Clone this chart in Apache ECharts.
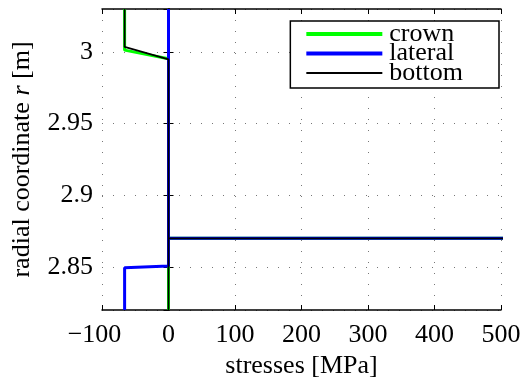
<!DOCTYPE html>
<html>
<head>
<meta charset="utf-8">
<script src="https://cdn.jsdelivr.net/npm/echarts@6/dist/echarts.min.js"></script>
<style>
  html, body { margin: 0; padding: 0; background: #fff; }
  #chart { width: 525px; height: 380px; }
</style>
</head>
<body>
<div id="chart"></div>
<script>
// Radial stress profiles through the lining (r in m, stress in MPa)
const seriesNames = ['crown', 'lateral', 'bottom'];

const crownR   = [3.03, 3.0013, 2.9953, 2.87, 2.87, 2.87, 2.82];
const crownS   = [-66, -66, 0, 0, 1200, 0, 0];

const lateralR = [3.03, 2.87, 2.87, 2.87, 2.8507, 2.8494, 2.82];
const lateralS = [0, 0, 1200, 0, 0, -66, -66];

const bottomR  = [3.03, 3.0035, 2.9948, 2.87, 2.87, 2.87, 2.82];
const bottomS  = [-66, -66, 0, 0, 1200, 0, 0];

const xTicks = [-100, 0, 100, 200, 300, 400, 500];
const yTicks = [2.85, 2.9, 2.95, 3];

const FONT = 'Liberation Serif';
const FS = 26;
const COLORS = { crown: '#00ff00', lateral: '#0000ff', bottom: '#000000' };
const WIDTHS = { crown: 3, lateral: 3, bottom: 1.8 };
const zip = (s, r) => s.map((v, i) => [v, r[i]]);

const chart = echarts.init(document.getElementById('chart'), null, { renderer: 'canvas' });

const gridLine = { show: true, lineStyle: { color: '#777', width: 1, type: [1, 10] } };
const axisLine = { show: true, lineStyle: { color: '#000', width: 1.5 } };
const tick = { show: true, inside: true, length: 5, lineStyle: { color: '#000', width: 1 } };

const xMin = xTicks[0], xMax = xTicks[xTicks.length - 1];
const yMin = 2.82, yMax = 3.03;

function makeSeries(name, s, r) {
  return {
    name, type: 'line', data: zip(s, r), symbol: 'none', clip: true,
    lineStyle: { color: COLORS[name], width: WIDTHS[name] },
    itemStyle: { color: COLORS[name] }
  };
}

chart.setOption({
  animation: false,
  backgroundColor: '#fff',
  grid: { left: 102, right: 24, top: 9, bottom: 70, containLabel: false, outerBoundsMode: 'none' },
  legend: {
    orient: 'vertical',
    right: 26,
    top: 21,
    data: seriesNames.map(n => ({ name: n, lineStyle: { width: n === 'bottom' ? 1.8 : 4 } })),
    itemWidth: 76,
    itemHeight: 14,
    itemGap: -6.5,
    padding: [0, 36, 2, 14],
    borderColor: '#000',
    borderWidth: 1.5,
    borderRadius: 0,
    backgroundColor: '#fff',
    itemStyle: { opacity: 0 },
    textStyle: { fontFamily: FONT, fontSize: FS, color: '#000', padding: [0, 0, 0, 2] }
  },
  xAxis: [{
    type: 'value', position: 'bottom',
    min: xMin, max: xMax, interval: 100,
    name: 'stresses [MPa]', nameLocation: 'middle', nameGap: 43,
    nameTextStyle: { fontFamily: FONT, fontSize: FS, color: '#000' },
    axisLine, axisTick: tick, splitLine: gridLine,
    axisLabel: {
      fontFamily: FONT, fontSize: FS, color: '#000', margin: 12,
      // negative labels: digits centred on the tick, minus sign hanging left
      formatter: v => v < 0 ? '{neg|\u2212' + Math.abs(v) + '}' : String(v),
      rich: { neg: { fontFamily: FONT, fontSize: FS, color: '#000', padding: [0, 15, 0, 0] } }
    }
  }, {
    type: 'value', position: 'top',
    min: xMin, max: xMax, interval: 100,
    axisLine, axisTick: tick, splitLine: { show: false }, axisLabel: { show: false }
  }],
  yAxis: [{
    type: 'value', position: 'left',
    min: yMin, max: yMax, splitNumber: 4,
    name: 'radial coordinate {i|r} [m]', nameLocation: 'middle', nameGap: 67, nameRotate: 90,
    nameTextStyle: {
      fontFamily: FONT, fontSize: FS, color: '#000',
      rich: { i: { fontFamily: FONT, fontSize: FS, fontStyle: 'italic', color: '#000' } }
    },
    axisLine, axisTick: tick, splitLine: gridLine,
    axisLabel: {
      fontFamily: FONT, fontSize: FS, color: '#000', margin: 9,
      padding: [3, 0, 0, 0],
      showMinLabel: false, showMaxLabel: false,
      formatter: v => yTicks.some(t => Math.abs(t - v) < 1e-9) ? String(+v.toFixed(2)) : ''
    }
  }, {
    type: 'value', position: 'right',
    min: yMin, max: yMax, splitNumber: 4,
    axisLine, axisTick: tick, splitLine: { show: false }, axisLabel: { show: false }
  }],
  series: [
    makeSeries('crown', crownS, crownR),
    makeSeries('lateral', lateralS, lateralR),
    makeSeries('bottom', bottomS, bottomR)
  ]
});
</script>
</body>
</html>
